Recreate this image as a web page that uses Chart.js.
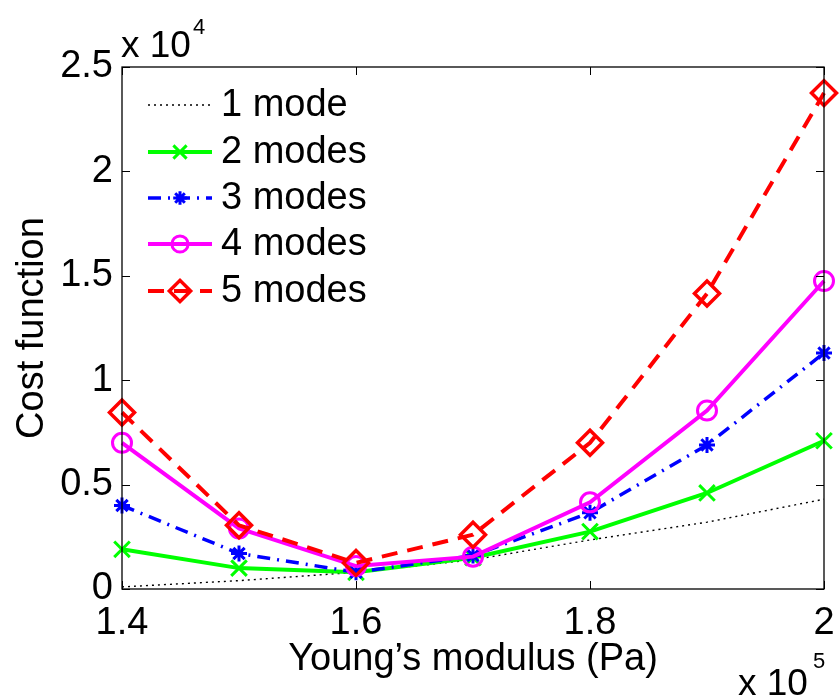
<!DOCTYPE html>
<html>
<head>
<meta charset="utf-8">
<script src="https://cdn.jsdelivr.net/npm/chart.js@4.4.1/dist/chart.umd.min.js"></script>
<style>
  html, body { margin: 0; padding: 0; background: #fff; }
  #wrap { width: 840px; height: 697px; }
</style>
</head>
<body>
<div id="wrap"><canvas id="costChart" width="840" height="697"></canvas></div>
<script>
// Young's modulus (x 10^5 Pa)
const modulus = [1.4, 1.5, 1.6, 1.7, 1.8, 1.9, 2.0];

// cost function values (x 10^4)
const mode1 = [0.01, 0.04, 0.08, 0.14, 0.235, 0.32, 0.43];
const mode2 = [0.19, 0.10, 0.08, 0.15, 0.275, 0.46, 0.71];
const mode3 = [0.40, 0.17, 0.08, 0.16, 0.365, 0.69, 1.13];
const mode4 = [0.70, 0.29, 0.11, 0.155, 0.415, 0.855, 1.475];
const mode5 = [0.845, 0.305, 0.125, 0.26, 0.70, 1.415, 2.375];

const seriesNames = ['1 mode', '2 modes', '3 modes', '4 modes', '5 modes'];

const xTicks = [1.4, 1.6, 1.8, 2.0];
const xTickLabels = ['1.4', '1.6', '1.8', '2'];
const yTicks = [0, 0.5, 1, 1.5, 2, 2.5];
const yTickLabels = ['0', '0.5', '1', '1.5', '2', '2.5'];

const FONT = 'Liberation Sans, Arial, sans-serif';

function pts(vals) {
  return vals.map((v, i) => ({ x: modulus[i], y: v }));
}

const styles = [
  { color: '#000000', width: 1.4, dash: [2, 4], point: false, radius: 0, pw: 0 },
  { color: '#00ff00', width: 4, dash: [], point: 'crossRot', radius: 11, pw: 3 },
  { color: '#0000ff', width: 3.5, dash: [13, 7, 2, 7], point: 'star', radius: 8, pw: 3 },
  { color: '#ff00ff', width: 4, dash: [], point: 'circle', radius: 9.5, pw: 3 },
  { color: '#ff0000', width: 4, dash: [16, 10], point: 'rectRot', radius: 12.5, pw: 3.5 }
];

const allSeries = [mode1, mode2, mode3, mode4, mode5];

const datasets = allSeries.map((vals, i) => ({
  label: seriesNames[i],
  data: pts(vals),
  borderColor: styles[i].color,
  borderWidth: styles[i].width,
  borderDash: styles[i].dash,
  pointStyle: styles[i].point,
  pointRadius: styles[i].radius,
  pointBorderWidth: styles[i].pw,
  pointBorderColor: styles[i].color,
  pointBackgroundColor: 'rgba(0,0,0,0)',
  tension: 0,
  fill: false,
  clip: false,
  order: 5 - i
}));

// box, inward ticks, exponent labels and in-plot legend
const matlabAxes = {
  id: 'matlabAxes',
  afterDatasetsDraw(chart) {
    const ctx = chart.ctx;
    const a = chart.chartArea;
    const xs = chart.scales.x;
    const ys = chart.scales.y;
    const tl = 8;
    ctx.save();
    ctx.strokeStyle = '#000';
    ctx.lineWidth = 1.3;
    ctx.setLineDash([]);
    ctx.strokeRect(a.left, a.top, a.right - a.left, a.bottom - a.top);
    ctx.lineWidth = 1;
    ctx.beginPath();
    xTicks.forEach(v => {
      const px = Math.round(xs.getPixelForValue(v)) + 0.5;
      ctx.moveTo(px, a.bottom); ctx.lineTo(px, a.bottom - tl);
      ctx.moveTo(px, a.top); ctx.lineTo(px, a.top + tl);
    });
    yTicks.forEach(v => {
      const py = Math.round(ys.getPixelForValue(v)) + 0.5;
      ctx.moveTo(a.left, py); ctx.lineTo(a.left + tl, py);
      ctx.moveTo(a.right, py); ctx.lineTo(a.right - tl, py);
    });
    ctx.stroke();

    // exponent labels
    ctx.fillStyle = '#000';
    ctx.textBaseline = 'alphabetic';
    ctx.textAlign = 'left';
    ctx.font = '37px ' + FONT;
    ctx.fillText('x 10', 121, 57);
    ctx.font = '22px ' + FONT;
    ctx.fillText('4', 193, 34);
    ctx.font = '37px ' + FONT;
    ctx.fillText('x 10', 738, 695);
    ctx.font = '22px ' + FONT;
    ctx.fillText('5', 813, 668);

    // legend
    const lx0 = 148, lx1 = 212, tx = 221;
    const rowY = [105, 152, 198, 244, 291];
    chart.data.datasets.forEach((ds, i) => {
      const st = styles[i];
      const y = rowY[i];
      ctx.save();
      ctx.strokeStyle = st.color;
      ctx.lineWidth = st.width;
      ctx.setLineDash(st.dash);
      ctx.beginPath();
      ctx.moveTo(lx0, y);
      ctx.lineTo(lx1, y);
      ctx.stroke();
      if (st.point) {
        ctx.setLineDash([]);
        ctx.lineWidth = st.pw;
        ctx.fillStyle = 'rgba(0,0,0,0)';
        Chart.helpers.drawPoint(ctx, { pointStyle: st.point, radius: st.radius * 0.85, rotation: 0, borderWidth: st.pw }, (lx0 + lx1) / 2, y);
      }
      ctx.restore();
      ctx.fillStyle = '#000';
      ctx.font = '38px ' + FONT;
      ctx.textBaseline = 'middle';
      ctx.textAlign = 'left';
      ctx.fillText(ds.label, tx, y + 1);
    });
    ctx.restore();
  }
};

new Chart(document.getElementById('costChart'), {
  type: 'line',
  data: { datasets },
  plugins: [matlabAxes],
  options: {
    responsive: false,
    animation: false,
    events: [],
    layout: { padding: { top: 67, right: 15, left: 0, bottom: 0 } },
    plugins: {
      legend: { display: false },
      tooltip: { enabled: false }
    },
    scales: {
      x: {
        type: 'linear',
        min: 1.4,
        max: 2.0,
        afterBuildTicks: s => { s.ticks = xTicks.map(v => ({ value: v })); },
        afterFit: s => { s.height = 108; s.paddingLeft = 0; s.paddingRight = 0; },
        grid: { display: false, drawTicks: false },
        border: { display: false },
        ticks: {
          padding: 12,
          color: '#000',
          font: { family: FONT, size: 38 },
          maxRotation: 0,
          autoSkip: false,
          callback: (v, i) => xTickLabels[i]
        },
        title: {
          display: true,
          text: 'Young\u2019s modulus (Pa)',
          color: '#000',
          font: { family: FONT, size: 38 },
          padding: { top: 0, bottom: 15 }
        }
      },
      y: {
        type: 'linear',
        min: 0,
        max: 2.5,
        afterBuildTicks: s => { s.ticks = yTicks.map(v => ({ value: v })); },
        afterFit: s => { s.width = 122; s.paddingTop = 0; s.paddingBottom = 0; },
        grid: { display: false, drawTicks: false },
        border: { display: false },
        ticks: {
          padding: 9,
          color: '#000',
          font: { family: FONT, size: 38 },
          autoSkip: false,
          callback: (v, i) => yTickLabels[i]
        },
        title: {
          display: true,
          text: 'Cost function',
          color: '#000',
          font: { family: FONT, size: 38 },
          padding: { top: 10, bottom: 0 }
        }
      }
    }
  }
});
</script>
</body>
</html>
